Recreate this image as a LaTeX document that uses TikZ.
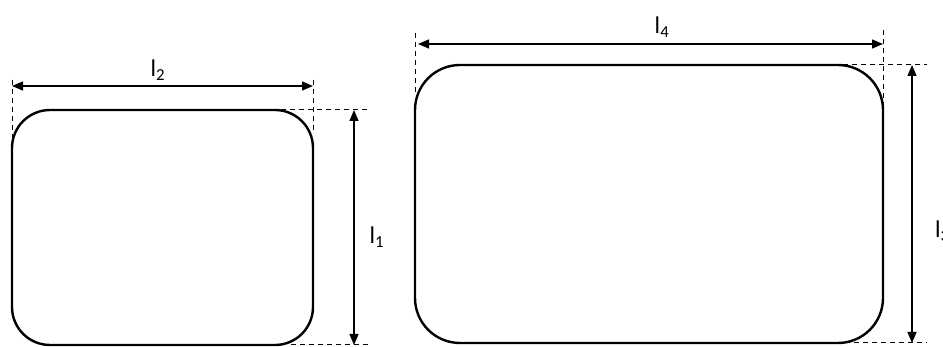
\documentclass[tikz,border=0pt]{standalone}
\usepackage{fontspec}
\setmainfont{Carlito}
\usetikzlibrary{arrows.meta,calc}
\begin{document}
\begin{tikzpicture}[x=1pt,y=-1pt,
  boxst/.style={draw, line width=2.4pt, rounded corners=#1, inner sep=0pt, outer sep=0pt},
  dim/.style={line width=1.3pt, {Triangle[length=11pt,width=9pt]}-{Triangle[length=11pt,width=9pt]}},
  ext/.style={dashed, line width=1pt, dash pattern=on 5pt off 4pt},
  lab/.style={font=\fontsize{24}{24}\selectfont, inner sep=0pt}]
\useasboundingbox (0,0) rectangle (943,347);
% boxes
\node[boxst=38pt, minimum width=301pt, minimum height=235pt] (A) at (162.5,227.5) {};
\node[boxst=45pt, minimum width=468pt, minimum height=278pt] (B) at (649,204) {};
% left box: horizontal dimension l2
\coordinate (a2l) at ($(A.north west)+(0,-24)$);
\coordinate (a2r) at ($(A.north east)+(0,-24)$);
\draw[ext] ($(A.north west)+(0,-30)$) -- ($(A.north west)+(0,30)$);
\draw[ext] ($(A.north east)+(0,-30)$) -- ($(A.north east)+(0,23)$);
\draw[dim] (a2l) -- (a2r);
\node[lab] (L2) at (158,70) {l\textsubscript{2}};
% left box: vertical dimension l1
\coordinate (a1t) at ($(A.north east)+(41,0)$);
\coordinate (a1b) at ($(A.south east)+(41,0)$);
\draw[ext] ($(A.north east)+(-32,0)$) -- ($(A.north east)+(55,0)$);
\draw[ext] ($(A.south east)+(-22,0)$) -- ($(A.south east)+(57,0)$);
\draw[dim] (a1t) -- (a1b);
\node[lab] (L1) at (377,237) {l\textsubscript{1}};
% right box: horizontal dimension l4
\coordinate (b4l) at ($(B.north west)+(3,-21)$);
\coordinate (b4r) at ($(B.north east)+(0,-21)$);
\draw[ext] ($(B.north west)+(0,-32)$) -- ($(B.north west)+(0,28)$);
\draw[ext] ($(B.north east)+(0,-35)$) -- ($(B.north east)+(0,45)$);
\draw[dim] (b4l) -- (b4r);
\node[lab] (L4) at (662,27) {l\textsubscript{4}};
% right box: vertical dimension l3
\coordinate (b3t) at ($(B.north east)+(29,0)$);
\coordinate (b3b) at ($(B.south east)+(29,0)$);
\draw[ext] ($(B.north east)+(-40,0)$) -- ($(B.north east)+(44,0)$);
\draw[ext] ($(B.south east)+(-38,0)$) -- ($(B.south east)+(44,0)$);
\draw[dim] (b3t) -- (b3b);
\node[lab, anchor=west] (L3) at (935,231) {l\textsubscript{3}};
\end{tikzpicture}
\end{document}
